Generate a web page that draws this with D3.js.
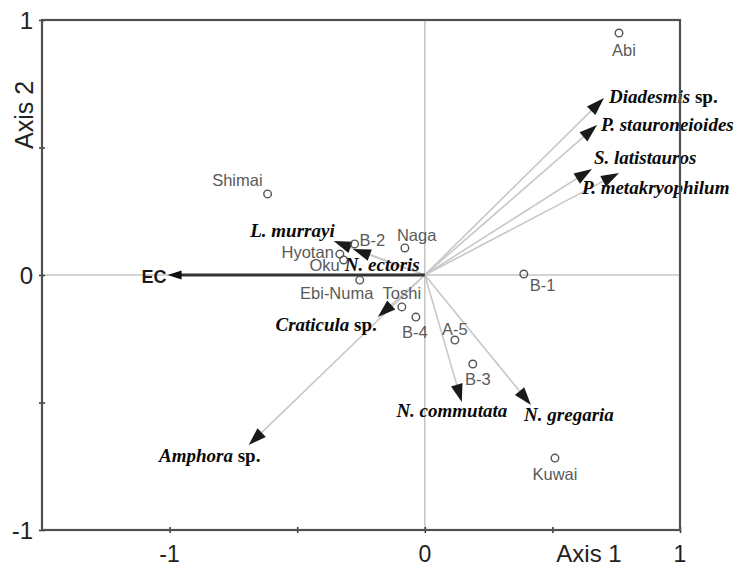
<!DOCTYPE html>
<html>
<head>
<meta charset="utf-8">
<script src="https://cdn.jsdelivr.net/npm/d3@7"></script>
<style>
  html, body { margin: 0; padding: 0; background: #fff; }
  svg { display: block; }
</style>
</head>
<body>
<svg id="chart" width="738" height="568"></svg>
<script>
// ---------- DATA ----------
const siteNames = ["Abi","Shimai","Naga","B-2","Hyotan","Oku","Ebi-Numa","Toshi","B-4","A-5","B-3","Kuwai","B-1"];
const siteAxis1 = [0.761,-0.616,-0.078,-0.275,-0.333,-0.318,-0.255,-0.090,-0.035,0.118,0.188,0.510,0.388];
const siteAxis2 = [0.949, 0.318, 0.106, 0.122, 0.082, 0.059,-0.020,-0.125,-0.165,-0.255,-0.349,-0.718,0.004];

const speciesGenus = ["Diadesmis","P. stauroneioides","S. latistauros","P. metakryophilum","L. murrayi","N. ectoris","Craticula","Amphora","N. commutata","N. gregaria"];
const speciesSuffix = [" sp.","","","","",""," sp."," sp.","",""];
const speciesAxis1 = [0.702,0.675,0.655,0.761,-0.357,-0.282,-0.184,-0.690,0.145,0.416];
const speciesAxis2 = [0.694,0.588,0.416,0.400, 0.133, 0.102,-0.165,-0.667,-0.498,-0.510];

const envName = ["EC"];
const envAxis1 = [-1.008];
const envAxis2 = [0];

const xTickValues = [-1,-0.5,0,0.5,1];
const yTickValues = [-1,-0.5,0,0.5,1];
const xTickLabels = ["-1","","0","","1"];
const yTickLabels = ["-1","","0","","1"];

// ---------- LAYOUT (label placement, pixels) ----------
const siteLabelLayout = {
  "Abi":[5,23,"middle"], "Shimai":[-5,-8,"end"], "Naga":[-8,-7,"start"], "B-2":[5,2,"start"],
  "Hyotan":[-6,4,"end"], "Oku":[-4,11,"end"], "Ebi-Numa":[-23,19,"middle"], "Toshi":[0,-8,"middle"],
  "B-4":[-1,21,"middle"], "A-5":[0,-5,"middle"], "B-3":[5,21,"middle"], "Kuwai":[0,22,"middle"], "B-1":[6,17,"start"]
};
const speciesLabelLayout = [
  [5,5,"start"],[4,6,"start"],[2,-5,"start"],[-37,21,"start"],[1,-4,"end"],
  [-8,22,"start"],[-1,14,"end"],[-39,17,"middle"],[-10,15,"middle"],[38,16,"middle"]
];

// ---------- CHART ----------
const svg = d3.select("#chart");
const pL = 42, pR = 680, pT = 20, pB = 530;
const x = d3.scaleLinear().domain([-1.5, 1]).range([pL, pR]);
const y = d3.scaleLinear().domain([-1, 1]).range([pB, pT]);

// zero lines
svg.append("line").attr("x1", pL).attr("x2", pR).attr("y1", y(0)).attr("y2", y(0))
  .attr("stroke", "#c4c4c4").attr("stroke-width", 1.5);
svg.append("line").attr("x1", x(0)).attr("x2", x(0)).attr("y1", pT).attr("y2", pB)
  .attr("stroke", "#c4c4c4").attr("stroke-width", 1.5);

function arrowHead(g, x0, y0, x1, y1, len, hw, color) {
  const a = Math.atan2(y1 - y0, x1 - x0);
  const bx = x1 - len * Math.cos(a), by = y1 - len * Math.sin(a);
  const px = -Math.sin(a) * hw, py = Math.cos(a) * hw;
  g.append("path")
    .attr("d", `M${x1},${y1}L${bx + px},${by + py}L${bx - px},${by - py}Z`)
    .attr("fill", color);
  return [bx, by];
}

const species = speciesGenus.map((g, i) => ({g, s: speciesSuffix[i], a1: speciesAxis1[i], a2: speciesAxis2[i], lay: speciesLabelLayout[i]}));
const vg = svg.append("g");
species.forEach(d => {
  const x0 = x(0), y0 = y(0), x1 = x(d.a1), y1 = y(d.a2);
  const a = Math.atan2(y1 - y0, x1 - x0);
  vg.append("line").attr("x1", x0).attr("y1", y0)
    .attr("x2", x1 - 10 * Math.cos(a)).attr("y2", y1 - 10 * Math.sin(a))
    .attr("stroke", "#c8c8c8").attr("stroke-width", 1.6);
});
species.forEach(d => {
  arrowHead(vg, x(0), y(0), x(d.a1), y(d.a2), 18, 6, "#1a1a1a");
});

// environmental vector
envName.forEach((n, i) => {
  const x0 = x(0), y0 = y(0), x1 = x(envAxis1[i]), y1 = y(envAxis2[i]);
  const a = Math.atan2(y1 - y0, x1 - x0);
  vg.append("line").attr("x1", x0).attr("y1", y0)
    .attr("x2", x1 - 8 * Math.cos(a)).attr("y2", y1 - 8 * Math.sin(a))
    .attr("stroke", "#333").attr("stroke-width", 2.8);
  arrowHead(vg, x0, y0, x1, y1, 14, 4.5, "#111");
  svg.append("text").attr("x", x1 - 1).attr("y", y1 + 8)
    .attr("text-anchor", "end")
    .attr("font-family", "Liberation Sans, Arial, sans-serif")
    .attr("font-weight", "bold").attr("font-size", 18).attr("fill", "#1a1a1a")
    .text(n);
});

// sites
const sites = siteNames.map((n, i) => ({n, a1: siteAxis1[i], a2: siteAxis2[i]}));
svg.append("g").selectAll("circle").data(sites).join("circle")
  .attr("cx", d => x(d.a1)).attr("cy", d => y(d.a2)).attr("r", 3.8)
  .attr("fill", "none").attr("stroke", "#555").attr("stroke-width", 1.4);
svg.append("g").selectAll("text").data(sites).join("text")
  .attr("x", d => x(d.a1) + siteLabelLayout[d.n][0])
  .attr("y", d => y(d.a2) + siteLabelLayout[d.n][1])
  .attr("text-anchor", d => siteLabelLayout[d.n][2])
  .attr("font-family", "Liberation Sans, Arial, sans-serif")
  .attr("font-size", 16.5).attr("fill", "#5a5a5a")
  .text(d => d.n);

// species labels
const sl = svg.append("g").selectAll("text").data(species).join("text")
  .attr("x", d => x(d.a1) + d.lay[0])
  .attr("y", d => y(d.a2) + d.lay[1])
  .attr("text-anchor", d => d.lay[2])
  .attr("font-family", "Liberation Serif, Times New Roman, serif")
  .attr("font-weight", "bold").attr("font-size", 19).attr("fill", "#0a0a0a");
sl.append("tspan").attr("font-style", "italic").text(d => d.g);
sl.filter(d => d.s).append("tspan").text(d => d.s);

// axes
const xAxis = d3.axisBottom(x).tickValues(xTickValues).tickSize(3).tickFormat("");
const yAxis = d3.axisLeft(y).tickValues(yTickValues).tickSize(3).tickFormat("");
const gx = svg.append("g").attr("transform", `translate(0,${pB})`).call(xAxis);
const gy = svg.append("g").attr("transform", `translate(${pL},0)`).call(yAxis);
[gx, gy].forEach(g => {
  g.select(".domain").remove();
  g.selectAll(".tick line").attr("stroke", "#333").attr("stroke-width", 1.5);
});
gx.selectAll(".tick").append("line").attr("y1", 0).attr("y2", -3).attr("stroke", "#333").attr("stroke-width", 1.5);
gy.selectAll(".tick").append("line").attr("x1", 0).attr("x2", 3).attr("stroke", "#333").attr("stroke-width", 1.5);

// frame
svg.append("rect").attr("x", pL).attr("y", pT).attr("width", pR - pL).attr("height", pB - pT)
  .attr("fill", "none").attr("stroke", "#505050").attr("stroke-width", 2.2);

// tick labels
const tickFont = "Liberation Sans, Arial, sans-serif";
svg.append("g").selectAll("text").data(xTickValues.filter((v, i) => xTickLabels[i]))
  .join("text")
  .attr("x", d => x(d)).attr("y", 562).attr("text-anchor", "middle")
  .attr("font-family", tickFont).attr("font-size", 23).attr("fill", "#222")
  .text(d => xTickLabels[xTickValues.indexOf(d)]);
svg.append("g").selectAll("text").data(yTickValues.filter((v, i) => yTickLabels[i]))
  .join("text")
  .attr("x", 33).attr("y", d => y(d) + 8.5).attr("text-anchor", "end")
  .attr("font-family", tickFont).attr("font-size", 24).attr("fill", "#222")
  .text(d => yTickLabels[yTickValues.indexOf(d)]);

// axis titles
svg.append("text").attr("x", 589).attr("y", 562).attr("text-anchor", "middle")
  .attr("font-family", tickFont).attr("font-size", 24).attr("fill", "#222").text("Axis 1");
svg.append("text").attr("transform", "translate(33,115) rotate(-90)").attr("text-anchor", "middle")
  .attr("font-family", tickFont).attr("font-size", 25).attr("fill", "#222").text("Axis 2");
</script>
</body>
</html>
